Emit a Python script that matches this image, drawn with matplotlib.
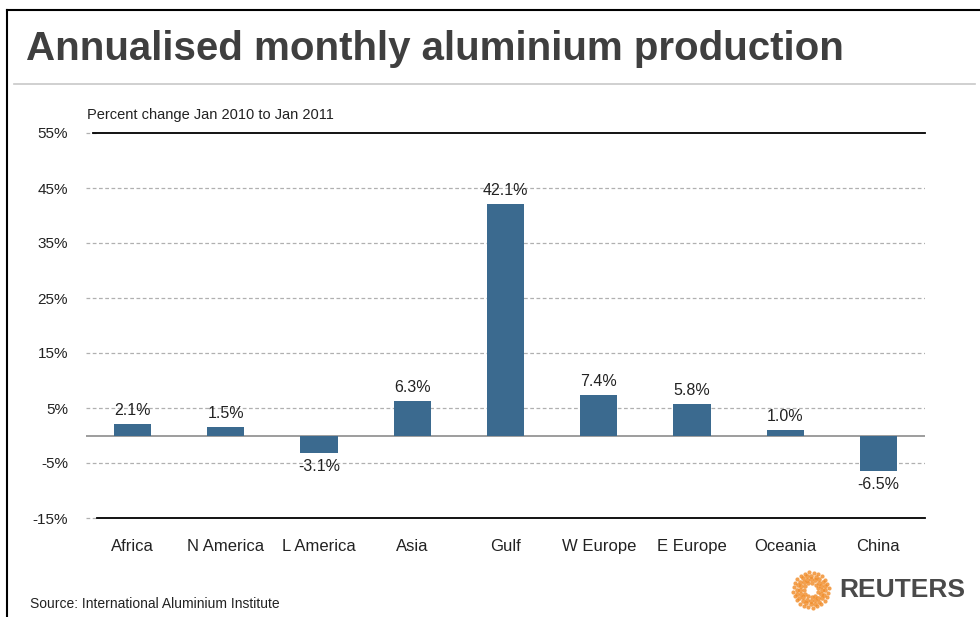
import matplotlib
matplotlib.use("Agg")
import matplotlib.pyplot as plt
from matplotlib.lines import Line2D
import numpy as np

# Data: percent change in annualised monthly aluminium production, Jan 2010 -> Jan 2011
regions = ["Africa", "N America", "L America", "Asia", "Gulf",
           "W Europe", "E Europe", "Oceania", "China"]
change_pct = [2.1, 1.5, -3.1, 6.3, 42.1, 7.4, 5.8, 1.0, -6.5]
y_ticks = [-15, -5, 5, 15, 25, 35, 45, 55]
y_tick_labels = ["-15%", "-5%", "5%", "15%", "25%", "35%", "45%", "55%"]

BAR = "#3b6a8f"
TXT = "#222222"
plt.rcParams["font.family"] = ["Liberation Sans", "DejaVu Sans"]

W, H = 980, 617
fig = plt.figure(figsize=(W / 100, H / 100), dpi=100)

def fx(px):
    return px / W

def fy(py):
    return 1 - py / H

# Frame lines (left and top)
fig.add_artist(Line2D([fx(7), fx(7)], [fy(10), fy(617)], color="black", lw=1.5))
fig.add_artist(Line2D([fx(7), fx(980)], [fy(10), fy(10)], color="black", lw=1.5))
# Separator under title
fig.add_artist(Line2D([fx(14), fx(975)], [fy(84), fy(84)], color="#c8c8c8", lw=1.2))

fig.text(fx(26), fy(49), "Annualised monthly aluminium production",
         fontsize=29, fontweight="bold", color="#3f3f3f", va="center", ha="left",
         fontstretch="condensed")
fig.text(fx(87), fy(115), "Percent change Jan 2010 to Jan 2011",
         fontsize=10.5, color=TXT, va="center", ha="left")
fig.text(fx(30), fy(604), "Source: International Aluminium Institute",
         fontsize=10, color=TXT, va="center", ha="left")

ax = fig.add_axes([fx(86), fy(518), fx(925) - fx(86), fy(133) - fy(518)])
x = np.arange(len(regions))
ax.set_xlim(-0.5, len(regions) - 0.5)
ax.set_ylim(-15, 55)

for t in [-5, 5, 15, 25, 35, 45]:
    ax.axhline(t, color="#b0b0b0", lw=0.9, ls=(0, (3, 2)), zorder=1)
# Top and bottom solid rules with short dashed lead-ins
for t in [55, -15]:
    ax.axhline(t, xmin=0, xmax=0.012, color="#b0b0b0", lw=0.9, ls=(0, (3, 2)), zorder=1, clip_on=False)
ax.axhline(55, xmin=0.008, xmax=1, color="black", lw=1.3, zorder=2, clip_on=False)
ax.axhline(-15, xmin=0.013, xmax=1, color="black", lw=1.3, zorder=2, clip_on=False)
ax.axhline(0, color="#8c8c8c", lw=1.2, zorder=2)

ax.bar(x, change_pct, width=0.4, color=BAR, zorder=3)

for xi, v in zip(x, change_pct):
    if v >= 0:
        ax.text(xi, v + 1.1, f"{v:.1f}%", ha="center", va="bottom", fontsize=11.5, color=TXT)
    else:
        ax.text(xi, v - 1.1, f"{v:.1f}%", ha="center", va="top", fontsize=11.5, color=TXT)

for s in ax.spines.values():
    s.set_visible(False)
ax.set_yticks(y_ticks)
ax.set_yticklabels(y_tick_labels)
ax.set_xticks(x)
ax.set_xticklabels(regions)
ax.tick_params(axis="y", length=0, pad=13, labelsize=11, labelcolor=TXT)
ax.tick_params(axis="x", length=0, pad=15, labelsize=12, labelcolor=TXT)

# Reuters mark: orange dotted sunburst plus wordmark
lax = fig.add_axes([fx(789), fy(610), fx(44), fy(570) - fy(610)])
lax.set_xlim(-1.1, 1.1)
lax.set_ylim(-1.1, 1.1)
lax.set_aspect("equal")
lax.axis("off")
for r, n, s in [(0.97, 24, 9), (0.78, 20, 11), (0.58, 16, 12), (0.4, 11, 10)]:
    ang = np.linspace(0, 2 * np.pi, n, endpoint=False) + r * 2
    lax.scatter(r * np.cos(ang), r * np.sin(ang), s=s, color="#f08a24", alpha=0.8, lw=0)
fig.text(fx(839), fy(590), "REUTERS", fontsize=19, fontweight="bold",
         color="#4a4a4a", va="center", ha="left")

fig.savefig("out.png", dpi=100)
